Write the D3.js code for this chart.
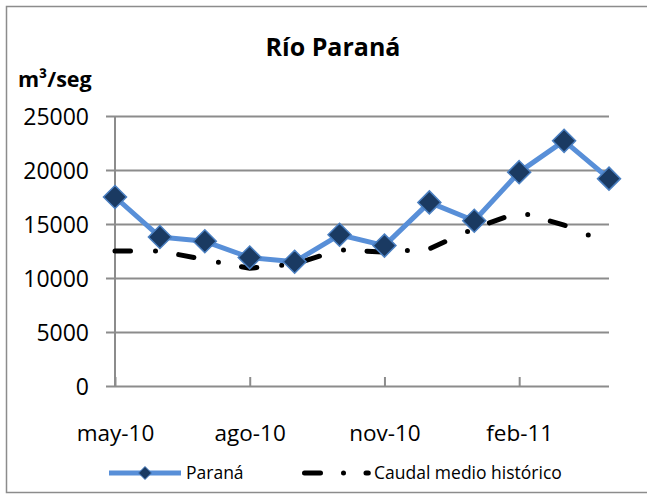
<!DOCTYPE html>
<html>
<head>
<meta charset="utf-8">
<script src="https://cdn.jsdelivr.net/npm/d3@7"></script>
<style>
  html, body { margin: 0; padding: 0; background: #fff; }
  svg text { font-family: "Open Sans", "Liberation Sans", sans-serif; fill: #000; }
</style>
</head>
<body>
<div id="chart"></div>
<script>
// Monthly flow of the Paraná river vs. historic mean (m3/seg)
var months = ['may-10', 'jun-10', 'jul-10', 'ago-10', 'sep-10', 'oct-10',
              'nov-10', 'dic-10', 'ene-11', 'feb-11', 'mar-11', 'abr-11'];
var parana = [17500, 13800, 13400, 11900, 11500, 14000,
              13000, 17000, 15300, 19800, 22700, 19200];
var caudalMedio = [12500, 12500, 11700, 10900, 11300, 12600,
                   12400, 12700, 14600, 16100, 14900, 13200];
var yTicks = [0, 5000, 10000, 15000, 20000, 25000];
var xTickLabels = ['may-10', 'ago-10', 'nov-10', 'feb-11'];

(function() {
  var W = 647, H = 494;
  var plot = { left: 115, right: 609, top: 116, bottom: 386 };

  var svg = d3.select('#chart')
    .append('svg')
    .attr('width', W)
    .attr('height', H);

  // outer frame
  svg.append('rect')
    .attr('x', 6.5).attr('y', 6.5)
    .attr('width', 645).attr('height', 486)
    .attr('fill', '#fff')
    .attr('stroke', '#8c8c8c')
    .attr('stroke-width', 1.5);

  var x = d3.scalePoint()
    .domain(months)
    .range([plot.left, plot.right]);

  var y = d3.scaleLinear()
    .domain([0, 25000])
    .range([plot.bottom, plot.top]);

  // Y axis with gridlines
  var yAxis = svg.append('g')
    .attr('transform', 'translate(' + plot.left + ',0)')
    .call(d3.axisLeft(y)
      .tickValues(yTicks)
      .tickSizeInner(-(plot.right - plot.left))
      .tickSizeOuter(0)
      .tickPadding(26)
      .tickFormat(d3.format('d')));
  yAxis.select('.domain').remove();
  yAxis.selectAll('.tick line')
    .attr('x1', -9)
    .attr('stroke', '#8c8c8c')
    .attr('stroke-width', 2);
  yAxis.selectAll('.tick text')
    .style('font-size', '23px')
    .attr('dy', '0.36em');

  // vertical axis line
  svg.append('line')
    .attr('x1', plot.left).attr('x2', plot.left)
    .attr('y1', plot.top).attr('y2', plot.bottom)
    .attr('stroke', '#8c8c8c')
    .attr('stroke-width', 2);

  // X axis: labels every third month, tick marks pointing up
  var xAxis = svg.append('g')
    .attr('transform', 'translate(0,' + plot.bottom + ')')
    .call(d3.axisBottom(x)
      .tickValues(xTickLabels)
      .tickSizeInner(-9)
      .tickSizeOuter(0)
      .tickPadding(39));
  xAxis.select('.domain').remove();
  xAxis.selectAll('.tick line')
    .attr('stroke', '#8c8c8c')
    .attr('stroke-width', 2);
  xAxis.selectAll('.tick text')
    .style('font-size', '22.5px');

  // Historic mean: long dash / dot
  var line = d3.line()
    .x(function(d, i) { return x(months[i]); })
    .y(function(d) { return y(d); });

  svg.append('path')
    .datum(caudalMedio)
    .attr('d', line)
    .attr('fill', 'none')
    .attr('stroke', '#000')
    .attr('stroke-width', 5)
    .attr('stroke-linecap', 'round')
    .attr('stroke-dasharray', '15.5 25 0 23.5');

  // Paraná series
  svg.append('path')
    .datum(parana)
    .attr('d', line)
    .attr('fill', 'none')
    .attr('stroke', '#588fd8')
    .attr('stroke-width', 5)
    .attr('stroke-linejoin', 'round');

  var diamond = function(r) {
    return 'M0,' + (-r) + 'L' + r + ',0L0,' + r + 'L' + (-r) + ',0Z';
  };

  svg.append('g')
    .selectAll('path')
    .data(parana)
    .join('path')
    .attr('transform', function(d, i) { return 'translate(' + x(months[i]) + ',' + y(d) + ')'; })
    .attr('d', diamond(11.5))
    .attr('fill', '#1a3a62')
    .attr('stroke', '#4a7fc1')
    .attr('stroke-width', 1.5);

  // Title and unit label
  svg.append('text')
    .attr('x', 333).attr('y', 56)
    .attr('text-anchor', 'middle')
    .style('font-size', '25px')
    .style('font-weight', 'bold')
    .text('Río Paraná');

  svg.append('text')
    .attr('x', 18).attr('y', 87)
    .style('font-size', '21.5px')
    .style('font-weight', 'bold')
    .text('m³/seg');

  // Legend
  var legY = 473;
  var leg = svg.append('g');

  leg.append('line')
    .attr('x1', 109).attr('x2', 181)
    .attr('y1', legY).attr('y2', legY)
    .attr('stroke', '#588fd8')
    .attr('stroke-width', 5);
  leg.append('path')
    .attr('transform', 'translate(145,' + legY + ')')
    .attr('d', diamond(6.5))
    .attr('fill', '#1a3a62')
    .attr('stroke', '#4a7fc1')
    .attr('stroke-width', 1);
  leg.append('text')
    .attr('x', 186).attr('y', legY)
    .attr('dy', '0.36em')
    .style('font-size', '17.5px')
    .text('Paraná');

  leg.append('line')
    .attr('x1', 304.5).attr('x2', 368.3)
    .attr('y1', legY).attr('y2', legY)
    .attr('stroke', '#000')
    .attr('stroke-width', 5)
    .attr('stroke-linecap', 'round')
    .attr('stroke-dasharray', '16 23 0 22.5');
  leg.append('text')
    .attr('x', 374).attr('y', legY)
    .attr('dy', '0.36em')
    .style('font-size', '17.5px')
    .text('Caudal medio histórico');
})();
</script>
</body>
</html>
